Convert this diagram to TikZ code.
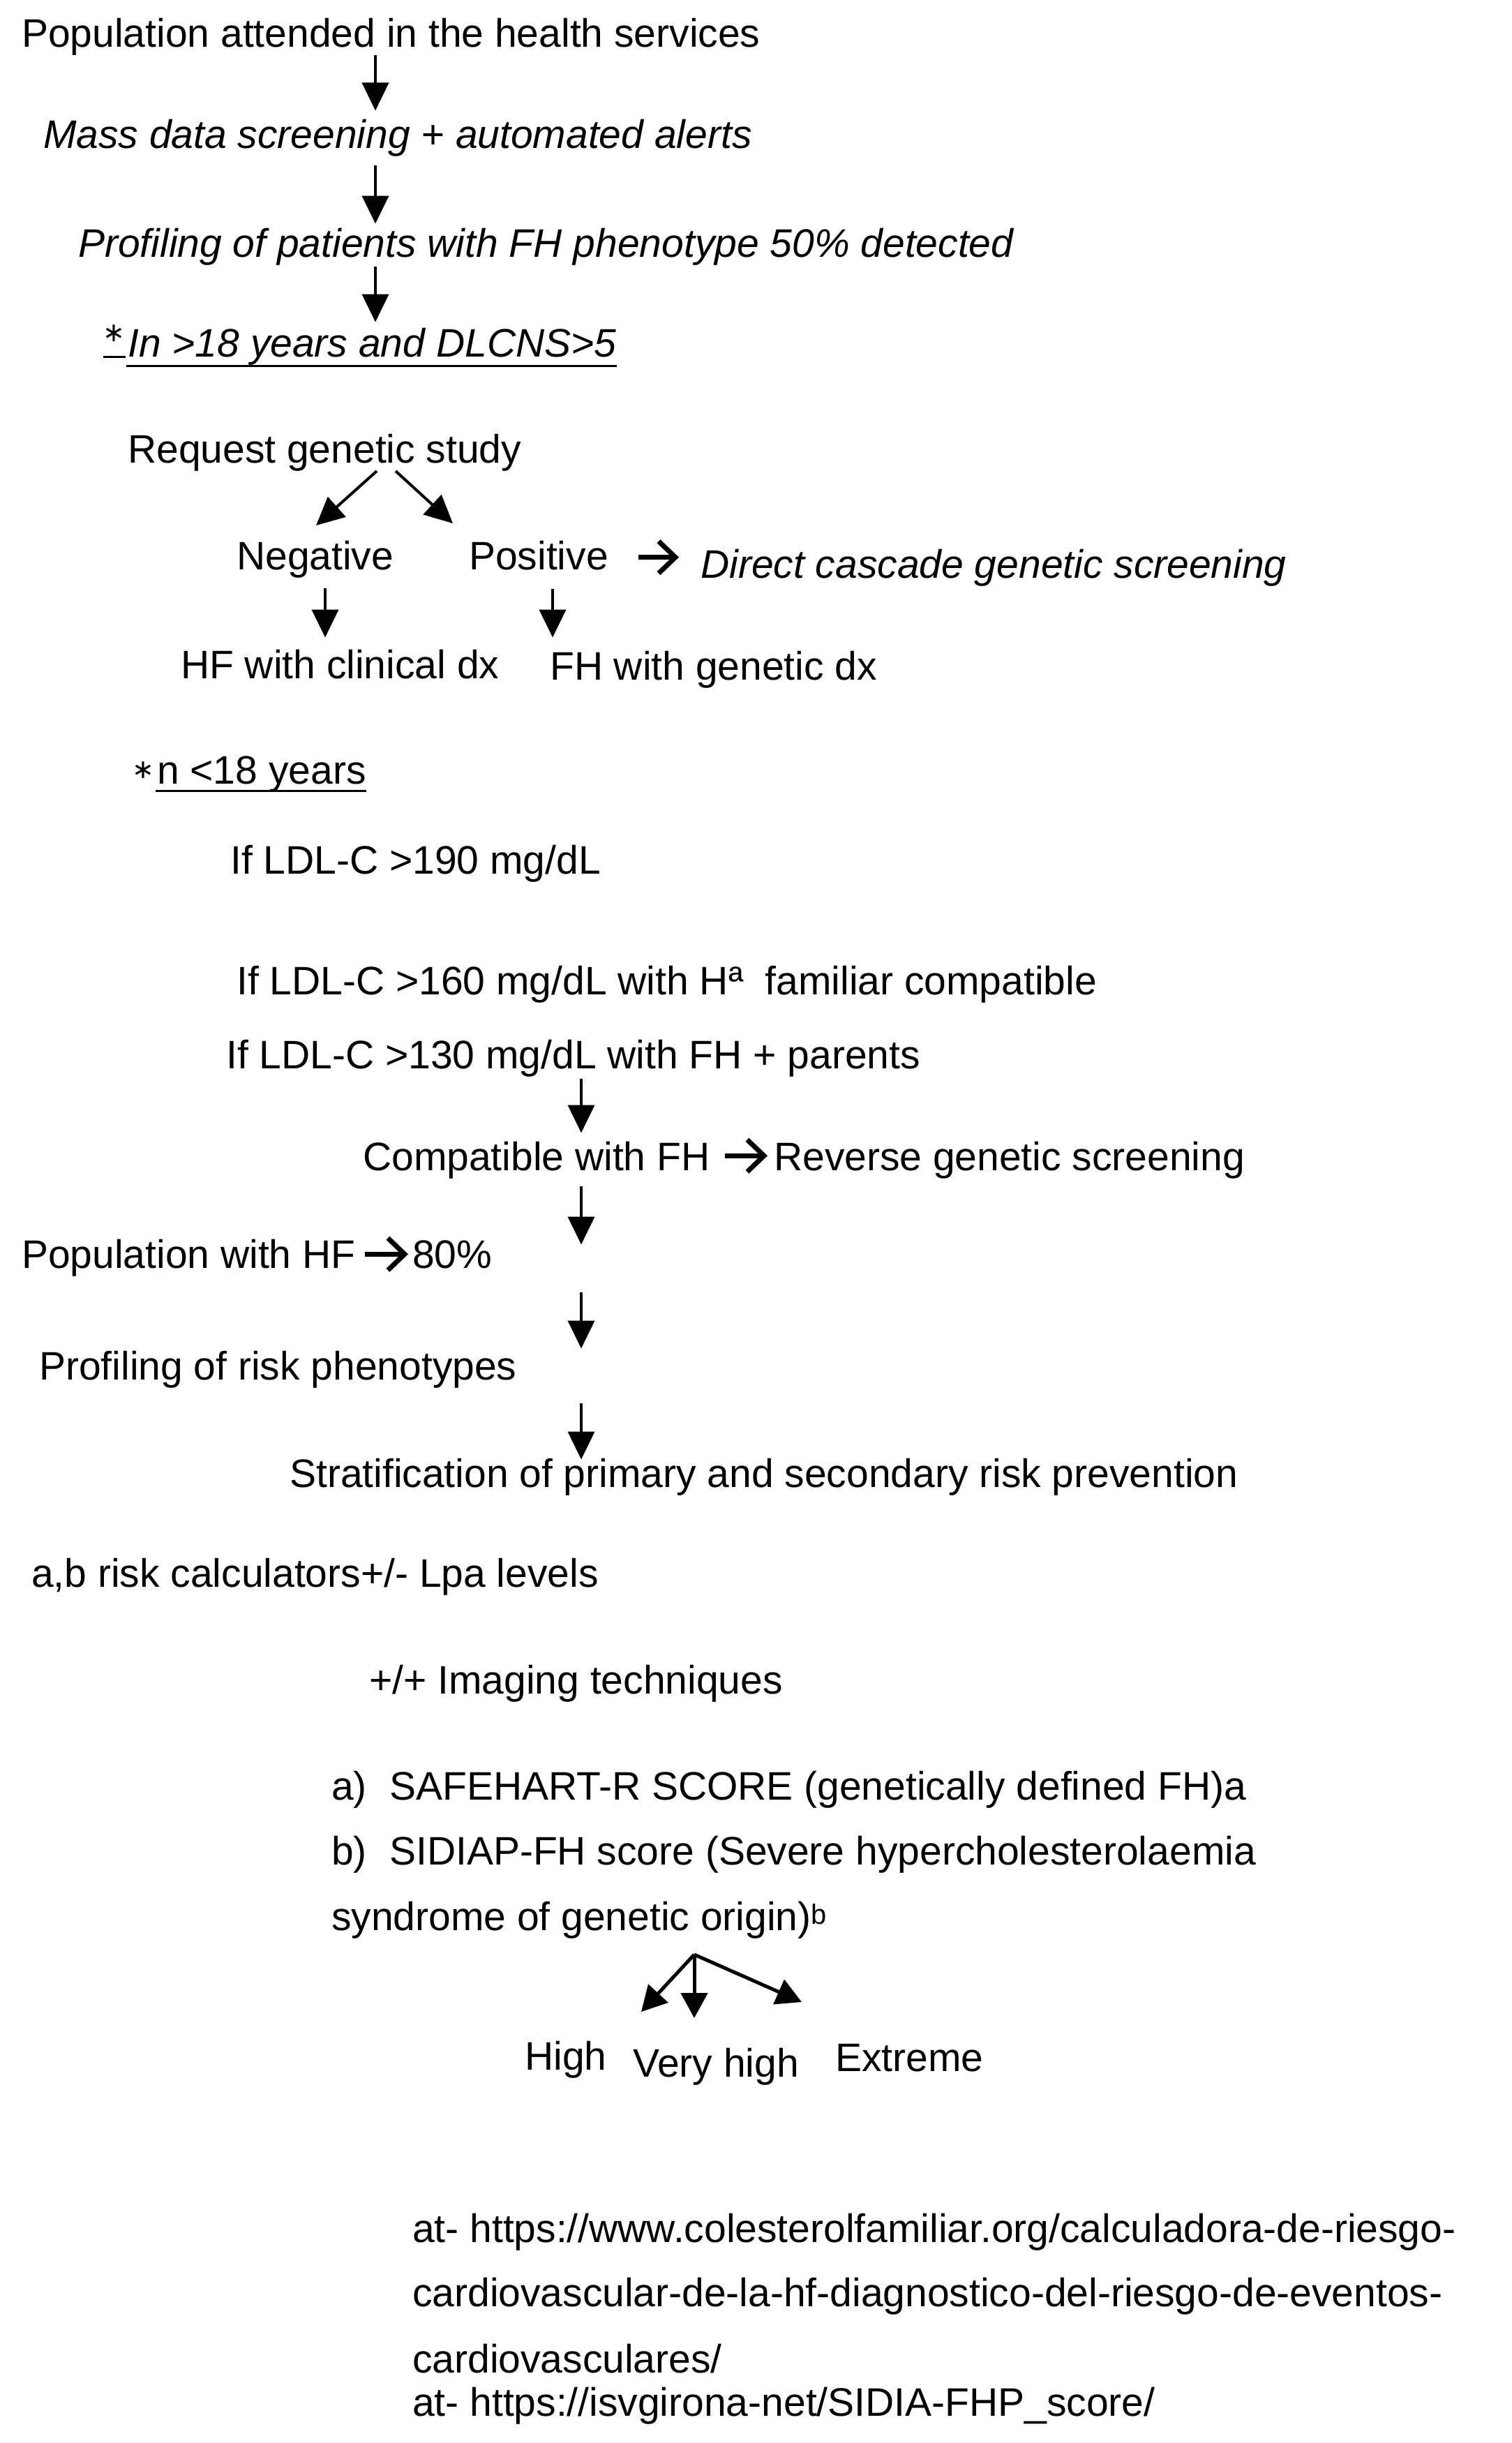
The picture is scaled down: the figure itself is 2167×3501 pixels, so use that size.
\documentclass[tikz,border=0pt]{standalone}
\usepackage{fontspec}
\setmainfont{Liberation Sans}
\newfontfamily\djv{DejaVu Sans}
\usetikzlibrary{arrows.meta,calc}
\begin{document}
\begin{tikzpicture}[x=1pt,y=-1pt,
  txt/.style={anchor=base west, inner sep=0pt, font=\fontsize{57}{68}\selectfont},
  itx/.style={txt, font=\fontsize{57}{68}\selectfont\itshape},
  astx/.style={anchor=base east, inner sep=0pt, font=\djv\fontsize{38}{40}\selectfont},
  arr/.style={line width=4pt, -{Triangle[length=40pt,width=38pt]}},
  arrs/.style={line width=5pt, -{Triangle[length=36pt,width=38pt]}},
  chev/.style={line width=7pt, -{Straight Barb[length=24pt,width=46pt]}},
  uline/.style={line width=3pt},
]
\useasboundingbox (0,0) rectangle (2167,3501);
\fill[white] (0,0) rectangle (2167,3501);

% x positions of vertical arrows
\coordinate (ax1) at (538,0);
\coordinate (ax2) at (833,0);
\coordinate (axn) at (466,0);
\coordinate (axp) at (792,0);
\coordinate (dl) at (540,0);
\coordinate (dr) at (567,0);

% ---- top chain
\node[txt] (pop) at (31,67) {Population attended in the health services};
\node[itx] (mass) at (62,212) {Mass data screening + automated alerts};
\node[itx] (prof) at (112,368) {Profiling of patients with FH phenotype 50\% detected};
\node[itx] (in) at (183,511) {In >18 years and DLCNS>5};
\node[astx] (ast1) at (180,511) {\raisebox{22pt}{∗}};
\draw[uline] (ast1.base west) -- (ast1.base east);
\draw[uline] ($(in.base west)+(-2,13)$) -- ($(in.base east)+(0,13)$);

\draw[arr] (pop.south -| ax1) -- ($(mass.north -| ax1)+(0,-12)$);
\draw[arr] ($(mass.south -| ax1)+(0,13)$) -- ($(prof.north -| ax1)+(0,-6)$);
\draw[arr] ($(prof.south -| ax1)+(0,2)$) -- ($(in.north -| ax1)+(0,-8)$);

% ---- genetic study
\node[txt] (req) at (183,663) {Request genetic study};
\node[txt] (neg) at (339,816) {Negative};
\node[txt] (pos) at (672,816) {Positive};
\node[itx] (dir) at (1004,828) {Direct cascade genetic screening};
\node[txt] (hfc) at (259,972) {HF with clinical dx};
\node[txt] (fhg) at (788,974) {FH with genetic dx};

\coordinate (nl) at (453,753);
\coordinate (nr) at (649,750);
\draw[arr] (req.south -| dl) -- (nl);
\draw[arr] (req.south -| dr) -- (nr);
\draw[arr] ($(neg.south -| axn)+(0,15)$) -- ($(hfc.north -| axn)+(0,-17)$);
\draw[arr] ($(pos.south -| axp)+(0,27)$) -- ($(fhg.north -| axp)+(0,-19)$);
\draw[chev] ($(pos.east)+(43,3)$) -- ($(pos.east -| dir.west)+(-31,3)$);

% ---- under 18
\node[txt] (lt18) at (225,1123) {n <18 years};
\node[astx] (ast2) at (222,1123) {\raisebox{8pt}{∗}};
\draw[uline] ($(lt18.base west)+(-2,10)$) -- ($(lt18.base east)+(0,10)$);

\node[txt] (c190) at (330,1252) {If LDL-C >190 mg/dL};
\node[txt] (c160) at (339,1425) {If LDL-C >160 mg/dL with Hª\ \ familiar compatible};
\node[txt] (c130) at (324,1531) {If LDL-C >130 mg/dL with FH + parents};
\node[txt] (comp) at (520,1677) {Compatible with FH};
\node[txt] (rev) at (1109,1677) {Reverse genetic screening};
\node[txt] (phf) at (31,1817) {Population with HF};
\node[txt] (p80) at (591,1817) {80\%};
\node[txt] (prisk) at (56,1977) {Profiling of risk phenotypes};
\node[txt] (strat) at (415,2131) {Stratification of primary and secondary risk prevention};

\draw[arr] ($(c130.south -| ax2)+(0,3)$) -- ($(comp.north -| ax2)+(0,-12)$);
\draw[chev] ($(comp.east)+(21,-6)$) -- ($(comp.east -| rev.west)+(-9,-6)$);
\draw[chev] ($(phf.east)+(13,-5)$) -- ($(phf.east -| p80.west)+(-6,-5)$);
\draw[arr] ($(comp.south -| ax2)+(0,11)$) -- ($(phf.north -| ax2)+(0,8)$);
\draw[arr] ($(phf.south -| ax2)+(0,23)$) -- ($(prisk.north -| ax2)+(0,-3)$);
\draw[arr] ($(prisk.south -| ax2)+(0,22)$) -- ($(strat.north -| ax2)+(0,2)$);

% ---- risk calculators
\node[txt] (calc) at (45,2274) {a,b risk calculators+/- Lpa levels};
\node[txt] (img) at (529,2427) {+/+ Imaging techniques};
\node[txt] (la) at (475,2579) {a)};
\node[txt] (saf) at (558,2579) {SAFEHART-R SCORE (genetically defined FH)a};
\node[txt] (lb) at (475,2672) {b)};
\node[txt] (sid) at (558,2672) {SIDIAP-FH score (Severe hypercholesterolaemia};
\node[txt] (syn) at (475,2766) {syndrome of genetic origin)\textsuperscript{b}};

\node[txt] (high) at (752,2966) {High};
\node[txt] (vhigh) at (907,2976) {Very high};
\node[txt] (ext) at (1197,2968) {Extreme};

\coordinate (fork) at (995,2801);
\coordinate (th) at (919,2883);
\coordinate (tv) at (995,2892);
\coordinate (te) at (1149,2869);
\draw[arrs] (fork) -- (th);
\draw[arrs] (fork) -- (tv);
\draw[arrs] (fork) -- (te);

% ---- references
\node[txt] (u1) at (591,3213) {at- https://www.colesterolfamiliar.org/calculadora-de-riesgo-};
\node[txt] (u2) at (591,3305) {cardiovascular-de-la-hf-diagnostico-del-riesgo-de-eventos-};
\node[txt] (u3) at (591,3400) {cardiovasculares/};
\node[txt] (u4) at (591,3462) {at- https://isvgirona-net/SIDIA-FHP\_score/};
\end{tikzpicture}
\end{document}
